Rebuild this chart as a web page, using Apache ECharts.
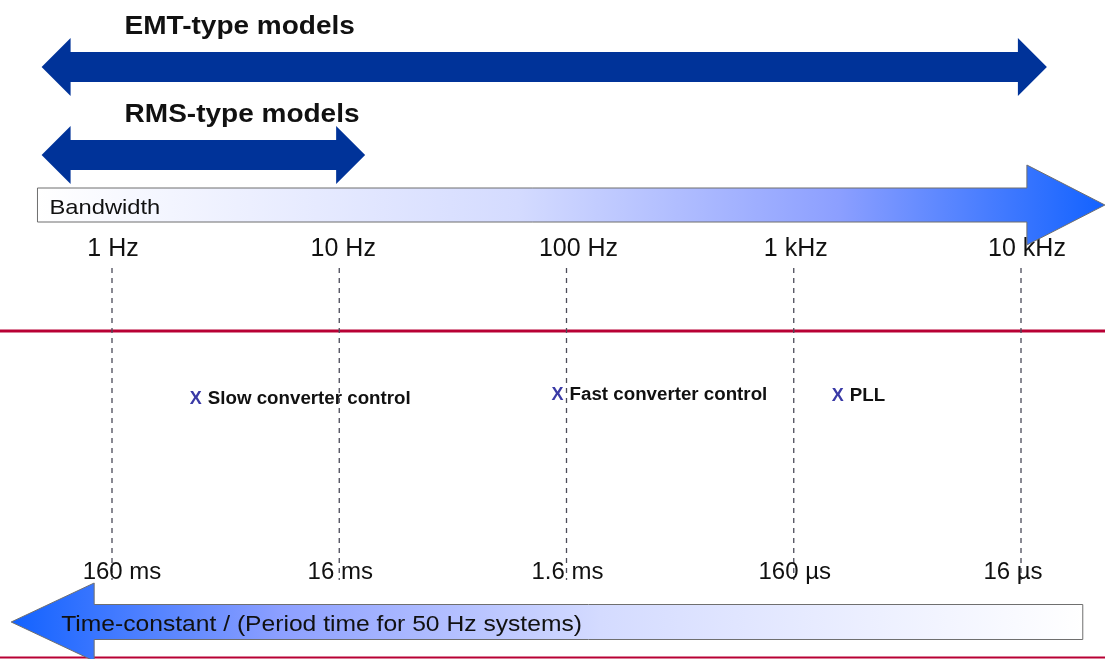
<!DOCTYPE html>
<html>
<head>
<meta charset="utf-8">
<script src="https://cdn.jsdelivr.net/npm/echarts@6/dist/echarts.min.js"></script>
<style>
  html, body { margin: 0; padding: 0; background: #fff; }
  #chart_box { width: 1105px; height: 659px; }
</style>
</head>
<body>
<div id="chart_box"></div>
<script>
// frequency decades and their labels
var decades = [1, 10, 100, 1000, 10000];
var freqLabels = ['1 Hz', '10 Hz', '100 Hz', '1 kHz', '10 kHz'];
var periodLabels = ['160 ms', '16 ms', '1.6 ms', '160 µs', '16 µs'];

// model validity ranges (Hz)
var modelNames = ['EMT-type models', 'RMS-type models'];
var modelFrom = [0.49, 0.49];
var modelTo = [13000, 13];

// control loops (Hz)
var controlNames = ['Slow converter control', 'Fast converter control', 'PLL'];
var controlFreqs = [2.2, 86, 1470];

// span of the two big axis arrows (Hz)
var bandwidthSpan = [0.47, 23400];
var timeSpan = [0.36, 18700];

// layout rows (pixels from top, y axis is 0..659 inverted)
var layout = {
  modelRows: [67, 155],
  bandwidthRow: 205,
  freqLabelRow: 249,
  freqLabelShift: [1, 4, 12, 2, 6],
  dashTop: 268,
  dashBottom: 580,
  controlRows: [399, 395, 396],
  periodLabelRow: 572,
  periodLabelShift: [10, 1, 1, 1, -8],
  timeRow: 622
};

var FONT = '"Liberation Sans", Arial, sans-serif';

var chart = echarts.init(document.getElementById('chart_box'));

function modelArrow(params, api) {
  var i = api.value(2);
  var y = layout.modelRows[i];
  var x0 = api.coord([api.value(0), y])[0];
  var x1 = api.coord([api.value(1), y])[0];
  var hl = 29, hh = 29, sh = 15;
  return {
    type: 'group',
    children: [
      {
        type: 'polygon',
        shape: {
          points: [
            [x0, y], [x0 + hl, y - hh], [x0 + hl, y - sh], [x1 - hl, y - sh], [x1 - hl, y - hh],
            [x1, y], [x1 - hl, y + hh], [x1 - hl, y + sh], [x0 + hl, y + sh], [x0 + hl, y + hh]
          ]
        },
        style: { fill: '#003399' }
      },
      {
        type: 'text',
        x: x0 + 83,
        y: y - 40,
        scaleX: 1.12,
        style: {
          text: modelNames[i],
          font: 'bold 25px ' + FONT,
          fill: '#111',
          align: 'left',
          verticalAlign: 'middle'
        }
      }
    ]
  };
}

function bandwidthArrow(params, api) {
  var y = layout.bandwidthRow;
  var x0 = api.coord([api.value(0), y])[0];
  var x1 = api.coord([api.value(1), y])[0];
  var hl = 78, hh = 40, sh = 17;
  return {
    type: 'group',
    children: [
      {
        type: 'polygon',
        shape: {
          points: [
            [x0, y - sh], [x1 - hl, y - sh], [x1 - hl, y - hh], [x1, y],
            [x1 - hl, y + hh], [x1 - hl, y + sh], [x0, y + sh]
          ]
        },
        style: {
          fill: {
            type: 'linear', x: 0, y: 0, x2: 1, y2: 0,
            colorStops: [
              { offset: 0, color: '#ffffff' },
              { offset: 0.45, color: '#d4dbff' },
              { offset: 0.75, color: '#8c9fff' },
              { offset: 1, color: '#1262ff' }
            ]
          },
          stroke: '#6f6f6f',
          lineWidth: 1
        }
      },
      {
        type: 'text',
        x: x0 + 12,
        y: y + 3,
        scaleX: 1.13,
        style: {
          text: 'Bandwidth',
          font: '21px ' + FONT,
          fill: '#111',
          align: 'left',
          verticalAlign: 'middle'
        }
      }
    ]
  };
}

function timeArrow(params, api) {
  var y = layout.timeRow;
  var x0 = api.coord([api.value(0), y])[0];
  var x1 = api.coord([api.value(1), y])[0];
  var hl = 83, hh = 39, sh = 17.5;
  return {
    type: 'group',
    children: [
      {
        type: 'polygon',
        shape: {
          points: [
            [x0, y], [x0 + hl, y - hh], [x0 + hl, y - sh], [x1, y - sh],
            [x1, y + sh], [x0 + hl, y + sh], [x0 + hl, y + hh]
          ]
        },
        style: {
          fill: {
            type: 'linear', x: 0, y: 0, x2: 1, y2: 0,
            colorStops: [
              { offset: 0, color: '#1262ff' },
              { offset: 0.25, color: '#8c9fff' },
              { offset: 0.55, color: '#d4dbff' },
              { offset: 1, color: '#ffffff' }
            ]
          },
          stroke: '#6f6f6f',
          lineWidth: 1
        }
      },
      {
        type: 'text',
        x: x0 + 50,
        y: y + 3,
        scaleX: 1.12,
        style: {
          text: 'Time-constant / (Period time for 50 Hz systems)',
          font: '22px ' + FONT,
          fill: '#111',
          align: 'left',
          verticalAlign: 'middle'
        }
      }
    ]
  };
}

var option = {
  animation: false,
  grid: { left: 112, right: 84, top: 0, bottom: 0 },
  xAxis: { type: 'log', logBase: 10, min: 1, max: 10000, show: false },
  yAxis: { type: 'value', min: 0, max: 659, inverse: true, show: false },
  graphic: [
    { type: 'line', z: 0, shape: { x1: 0, y1: 331, x2: 1105, y2: 331 }, style: { stroke: '#b80034', lineWidth: 3 } },
    { type: 'line', z: 0, shape: { x1: 0, y1: 657.5, x2: 1105, y2: 657.5 }, style: { stroke: '#b80034', lineWidth: 2 } }
  ],
  series: [
    {
      // dashed decade lines
      type: 'custom',
      z: 3,
      data: decades.map(function (d) { return [d]; }),
      renderItem: function (params, api) {
        var p0 = api.coord([api.value(0), layout.dashTop]);
        var p1 = api.coord([api.value(0), layout.dashBottom]);
        return {
          type: 'line',
          shape: { x1: p0[0], y1: p0[1], x2: p1[0], y2: p1[1] },
          style: { stroke: '#4b4b58', lineWidth: 1.3, lineDash: [5, 5] }
        };
      }
    },
    {
      // frequency labels (sit under the bandwidth arrow head)
      type: 'custom',
      z: 3,
      data: decades.map(function (d, i) { return [d, i]; }),
      renderItem: function (params, api) {
        var i = api.value(1);
        var p = api.coord([api.value(0), layout.freqLabelRow]);
        return {
          type: 'text', x: p[0] + layout.freqLabelShift[i], y: p[1],
          style: {
            text: freqLabels[i], font: '25px ' + FONT, fill: '#111',
            align: 'center', verticalAlign: 'middle'
          }
        };
      }
    },
    {
      type: 'custom',
      z: 4,
      data: [bandwidthSpan],
      renderItem: bandwidthArrow
    },
    {
      type: 'custom',
      z: 4,
      data: [timeSpan],
      renderItem: timeArrow
    },
    {
      type: 'custom',
      z: 4,
      data: modelNames.map(function (n, i) { return [modelFrom[i], modelTo[i], i]; }),
      renderItem: modelArrow
    },
    {
      // period labels
      type: 'custom',
      z: 5,
      data: decades.map(function (d, i) { return [d, i]; }),
      renderItem: function (params, api) {
        var i = api.value(1);
        var p = api.coord([api.value(0), layout.periodLabelRow]);
        return {
          type: 'text', x: p[0] + layout.periodLabelShift[i], y: p[1],
          style: {
            text: periodLabels[i], font: '24px ' + FONT, fill: '#111',
            align: 'center', verticalAlign: 'middle'
          }
        };
      }
    },
    {
      // control loops
      type: 'custom',
      z: 5,
      data: controlFreqs.map(function (f, i) { return [f, i]; }),
      renderItem: function (params, api) {
        var i = api.value(1);
        var p = api.coord([api.value(0), layout.controlRows[i]]);
        return {
          type: 'group',
          children: [
            {
              type: 'text', x: p[0], y: p[1],
              style: { text: 'X', font: 'bold 18px ' + FONT, fill: '#3a3aa6', align: 'left', verticalAlign: 'middle' }
            },
            {
              type: 'text', x: p[0] + 18, y: p[1], scaleX: 1.04,
              style: { text: controlNames[i], font: 'bold 18px ' + FONT, fill: '#111', align: 'left', verticalAlign: 'middle' }
            }
          ]
        };
      }
    }
  ]
};

chart.setOption(option);
</script>
</body>
</html>
